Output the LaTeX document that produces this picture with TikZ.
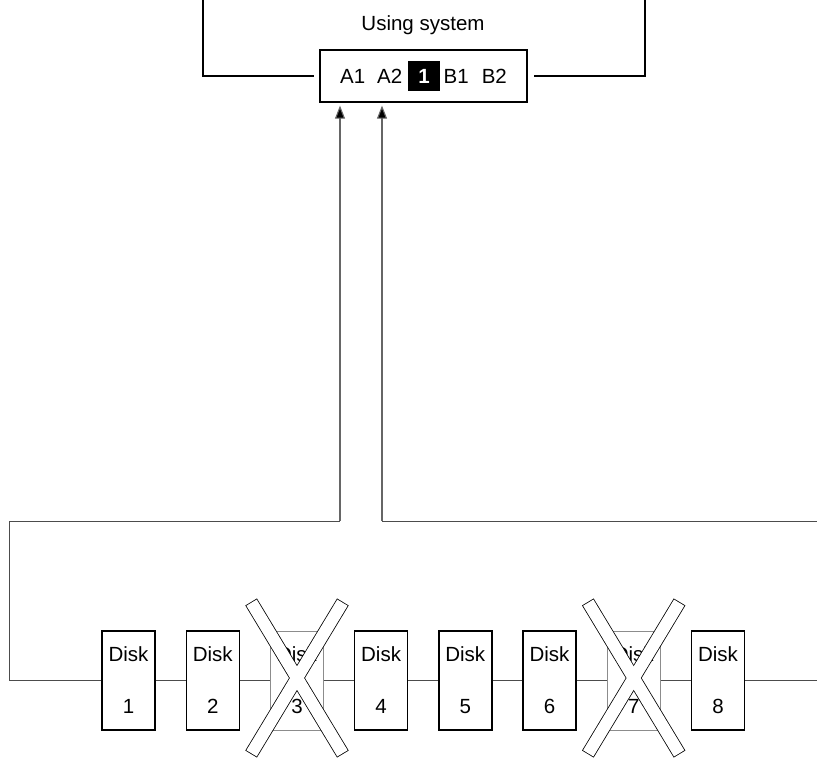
\documentclass[tikz,border=0pt]{standalone}
\usepackage{fontspec}
\setmainfont{Liberation Sans}
\usetikzlibrary{arrows.meta}
\begin{document}
\begin{tikzpicture}[x=1pt,y=-1pt,
  lbl/.style={font=\fontsize{20.5}{24}\selectfont, inner sep=0pt},
  sysbox/.style={draw, line width=1.3pt, minimum width=207pt, minimum height=52pt, inner sep=0pt, font=\fontsize{20.5}{24}\selectfont},
  disk/.style={draw, line width=1.4pt, minimum width=53pt, minimum height=99pt, inner sep=0pt, align=center, font=\fontsize{20.5}{52}\selectfont},
  faileddisk/.style={disk, draw=black!45, line width=0.8pt},
  sysline/.style={draw=black, line width=1.2pt},
  conn/.style={draw=black!70, line width=0.9pt},
  arr/.style={draw=black!60, line width=1.1pt, -{Triangle[length=13pt,width=10pt,fill=black]}},
  barline/.style={line width=1.6pt, draw=black},
  barfill/.style={fill=white}]
\useasboundingbox (0,0) rectangle (817,758);

\node[lbl] (title) at (423,25) {Using system};
\node[sysbox] (sys) at (423.5,76) {A1\hspace{12pt}A2\hspace{6pt}{\setlength{\fboxsep}{7.5pt}\colorbox{black}{\hspace{2.5pt}\textcolor{white}{\bfseries 1}\hspace{2.5pt}}}\hspace{4pt}B1\hspace{13pt}B2};

\coordinate (tl) at (203,0);
\coordinate (tr) at (645,0);
\draw[sysline] (tl) |- ([xshift=-5pt]sys.west);
\draw[sysline] (tr) |- ([xshift=6pt]sys.east);

\node[disk] (d1) at (128.5,680.5) {Disk\\1};
\node[disk] (d2) at (212.7,680.5) {Disk\\2};
\node[faileddisk] (d3) at (297,680.5) {Disk\\3};
\node[disk] (d4) at (381.1,680.5) {Disk\\4};
\node[disk] (d5) at (465.3,680.5) {Disk\\5};
\node[disk] (d6) at (549.5,680.5) {Disk\\6};
\node[faileddisk] (d7) at (633.7,680.5) {Disk\\7};
\node[disk] (d8) at (718,680.5) {Disk\\8};

\draw[conn] (d1) -- (d2);
\draw[conn] (d2) -- (d3);
\draw[conn] (d3) -- (d4);
\draw[conn] (d4) -- (d5);
\draw[conn] (d5) -- (d6);
\draw[conn] (d6) -- (d7);
\draw[conn] (d7) -- (d8);

\coordinate (ll) at (9,521);
\coordinate (a1) at (340,521);
\coordinate (a2) at (382,521);
\coordinate (rr) at (817,521);
\coordinate (re) at (817,680.5);

\draw[conn] (d1.west) -| (ll) -- (a1);
\draw[arr, shorten >=3pt] (a1) -- (a1 |- sys.south);
\draw[conn] (rr) -- (a2);
\draw[arr, shorten >=3pt] (a2) -- (a2 |- sys.south);
\draw[conn] (d8) -- (re);

\foreach \c in {d3,d7}{
  \begin{scope}[shift={(\c)}, yshift=2.5pt]
    \draw[barline, rotate=58.9] (-88,-6) rectangle (88,6);
    \draw[barline, rotate=-58.9] (-88,-6) rectangle (88,6);
    \fill[barfill, rotate=58.9] (-88,-6) rectangle (88,6);
    \fill[barfill, rotate=-58.9] (-88,-6) rectangle (88,6);
  \end{scope}
}
\end{tikzpicture}
\end{document}
